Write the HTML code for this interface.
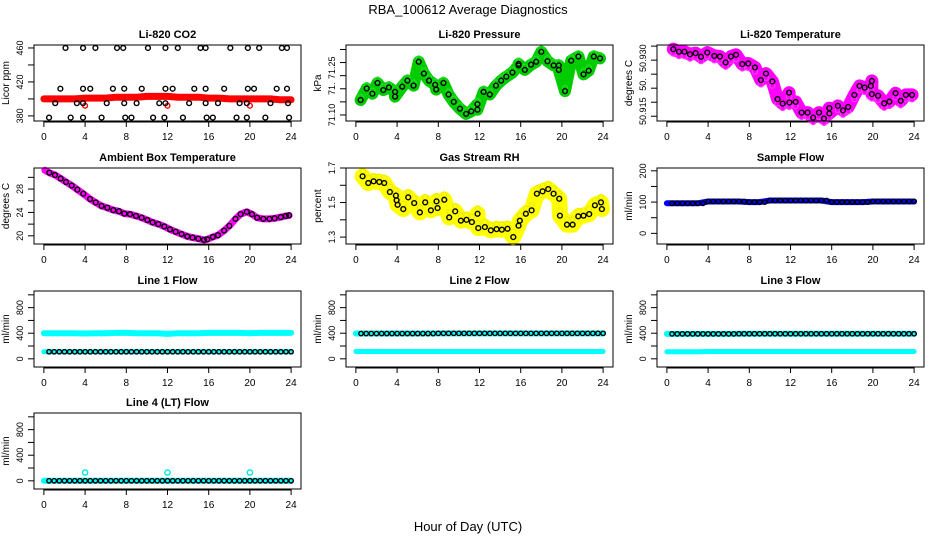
<!DOCTYPE html>
<html><head><meta charset="utf-8">
<style>
html,body{margin:0;padding:0;background:#fff;}
svg{display:block;font-family:"Liberation Sans","DejaVu Sans",sans-serif;}
</style></head>
<body>
<svg id="chart" width="936" height="540" viewBox="0 0 936 540" xmlns="http://www.w3.org/2000/svg">
<rect x="0" y="0" width="936" height="540" fill="#fff"/>
<text x="468" y="14" text-anchor="middle" font-size="13">RBA_100612  Average Diagnostics</text>
<text x="468" y="531" text-anchor="middle" font-size="13">Hour of Day (UTC)</text>
</svg>
<script>
// ---------- data ----------
const xTicks = [0,4,8,12,16,20,24];
const hours = [0,1,2,3,4,5,6,7,8,9,10,11,12,13,14,15,16,17,18,19,20,21,22,23,24];

// CO2
const co2Band = [400,400,400,400,401,401,401,402,402,402,403,403,403,402,402,402,401,401,400,400,400,400,400,399,399];
const co2BlackT = [2.1,3.8,5.0,7.1,7.7,10.1,11.8,13.0,15.2,15.7,18.1,19.8,20.9,23.1,23.6, 1.6,3.8,4.5,6.7,7.8,9.5,11.8,12.5,14.6,15.7,17.5,19.8,20.4,22.6,23.6, 1.1,3.2,3.8,6.1,7.8,9.0,11.2,11.8,14.1,15.7,16.9,19.0,19.7,22.0,23.7, 0.5,2.6,3.8,5.6,7.9,8.5,10.6,11.7,13.5,15.8,16.4,18.7,19.7,21.5,23.8];
const co2BlackV = [460,460,460,460,460,460,460,460,460,460,460,460,460,460,460, 412,412,412,412,412,412,412,412,412,412,412,412,412,412,412, 395,395,395,395,395,395,395,395,395,395,395,395,395,395,395, 378,378,378,378,378,378,378,378,378,378,378,378,378,378,378];
const co2RedT = [4,12,20];
const co2RedV = [392,392,392];

// Pressure
const presT = [0.46,1.05,1.6,2.1,2.66,3.2,3.8,3.8,4.5,5.0,5.6,6.1,6.6,7.1,7.7,7.8,8.5,9.0,9.5,10.1,10.7,11.2,11.8,11.8,12.4,13.0,13.6,14.1,14.6,15.2,15.8,15.8,16.4,17.0,17.5,18.0,18.6,19.2,19.7,19.7,20.3,20.9,21.6,22.1,22.6,23.1,23.7];
const presV = [71.157,71.201,71.181,71.222,71.195,71.205,71.188,71.170,71.208,71.231,71.212,71.303,71.258,71.231,71.215,71.197,71.222,71.178,71.150,71.124,71.104,71.114,71.141,71.120,71.188,71.178,71.212,71.231,71.246,71.262,71.289,71.295,71.272,71.292,71.303,71.341,71.305,71.289,71.289,71.272,71.191,71.307,71.323,71.255,71.269,71.323,71.316];

// Li-820 temperature
const tempT = [0.62,1.17,1.7,2.24,2.79,3.31,3.92,4.6,5.15,5.7,6.22,6.71,7.32,7.9,8.55,9.13,9.62,10.24,10.75,11.24,11.86,11.89,12.5,13.08,13.66,14.2,14.77,15.25,15.77,15.77,16.6,17.1,17.6,18.2,18.7,19.2,19.8,19.9,19.9,20.5,21.1,21.6,22.2,22.7,23.2,23.8];
const tempV = [50.9389,50.9380,50.9380,50.9371,50.9375,50.9362,50.9377,50.9365,50.9363,50.9342,50.9363,50.9369,50.9336,50.9338,50.9324,50.9279,50.9302,50.9274,50.9211,50.9195,50.9234,50.9199,50.9201,50.9163,50.9163,50.9145,50.9163,50.9142,50.9179,50.9160,50.9187,50.9171,50.9183,50.9226,50.9258,50.9252,50.9258,50.9276,50.9229,50.9223,50.9196,50.9202,50.9232,50.9205,50.9226,50.9226];

// Ambient box temperature
const ambT = [0.1,0.53,1.08,1.63,2.15,2.7,3.25,3.83,4.48,5.03,5.6,6.16,6.74,7.29,7.81,8.36,8.94,9.49,10.04,10.56,11.11,11.69,12.24,12.79,13.37,13.92,14.44,14.99,15.54,15.86,16.4,16.9,17.5,18.0,18.6,19.1,19.7,20.2,20.7,21.3,21.9,22.4,23.0,23.5,23.8];
const ambV = [31.2,30.8,30.4,29.8,29.2,28.6,27.9,27.2,26.3,25.7,25.1,24.8,24.4,24.2,23.8,23.7,23.4,23.1,22.7,22.3,22.0,21.6,21.1,20.7,20.3,19.9,19.7,19.5,19.3,19.4,19.8,20.1,20.9,21.7,22.9,23.7,24.1,23.7,23.1,22.9,22.9,23.0,23.2,23.4,23.5];

// Gas stream RH
const rhT = [0.65,1.2,1.72,2.27,2.75,3.3,3.88,3.95,4.05,4.6,5.08,5.66,6.21,6.73,7.28,7.83,7.93,8.58,9.06,9.64,10.19,10.74,11.26,11.81,11.88,12.52,13.1,13.66,14.17,14.72,15.28,15.79,15.92,16.5,17.06,17.57,18.12,18.67,19.19,19.74,19.81,20.49,21.04,21.59,22.1,22.65,23.2,23.79,23.88];
const rhV = [1.652,1.613,1.623,1.619,1.613,1.561,1.540,1.513,1.487,1.462,1.530,1.497,1.443,1.501,1.455,1.507,1.468,1.516,1.414,1.449,1.395,1.400,1.387,1.435,1.352,1.358,1.339,1.346,1.343,1.348,1.300,1.366,1.395,1.435,1.455,1.551,1.565,1.578,1.551,1.522,1.424,1.372,1.372,1.420,1.424,1.433,1.484,1.501,1.462];

// Sample flow
const sfV = [96,96,96,96,102,102,102,102,100,100,105,105,105,105,105,105,100,100,100,100,102,102,102,102,102];

// Line flows (hourly)
const l1High = [400,400,400,400,395,400,400,405,405,400,400,400,390,400,400,400,405,405,405,405,400,405,405,405,405];
const l1Low  = [110,110,110,110,110,110,110,110,110,110,110,110,110,110,110,110,110,110,110,110,110,110,110,110,110];
const l2High = [395,395,395,395,395,395,395,395,398,398,398,398,398,398,398,398,398,398,398,398,398,398,398,398,398];
const l2Low  = [115,115,115,115,115,115,115,115,115,115,115,115,115,115,115,115,115,115,115,115,115,115,115,115,115];
const l3High = [390,390,390,390,390,390,390,392,392,392,392,392,392,392,392,392,392,392,392,392,392,392,392,392,392];
const l3Low  = [110,110,110,110,115,115,115,115,115,115,115,115,115,115,115,115,115,115,115,115,115,115,115,115,115];
const l4Base = [0,0,0,0,0,0,0,0,0,0,0,0,0,0,0,0,0,0,0,0,0,0,0,0,0];
const l4SpikeT = [4,12,20];
const l4SpikeV = [130,130,130];

// ---------- drawing ----------
const NS = "http://www.w3.org/2000/svg";
const svg = document.getElementById('chart');
function mk(tag, attrs, parent){
  const e = document.createElementNS(NS, tag);
  for (const k in attrs) e.setAttribute(k, attrs[k]);
  (parent||svg).appendChild(e);
  return e;
}
const cols = [34, 346, 657];
const rows = [45, 168, 291, 413];
const W = 267, H = 76;

function makePanel(col,row,title,ylab,ylim,yTicks,yLabelVals,yLabelTexts,name){
  const x0 = cols[col], y0 = rows[row];
  const g = mk('g',{});
  
  
  const sx = t => x0 + (t + 0.96) / 25.92 * W;
  const sy = v => y0 + H - (v - ylim[0]) / (ylim[1]-ylim[0]) * H;
  const t = mk('text',{x:x0+W/2,y:y0-7,'text-anchor':'middle','font-size':11,'font-weight':'bold'},g);
  t.textContent = title;
  
  
  const xa = mk('g',{},g);
  
  
  mk('line',{x1:sx(xTicks[0]),x2:sx(xTicks[xTicks.length-1]),y1:y0+H+1,y2:y0+H+1,stroke:'#000','stroke-width':1},xa);
  xTicks.forEach(v=>{
    mk('line',{x1:sx(v),x2:sx(v),y1:y0+H,y2:y0+H+6,stroke:'#000','stroke-width':1},xa);
    const tx = mk('text',{x:sx(v),y:y0+H+19,'text-anchor':'middle','font-size':10},xa);
    tx.textContent = v;
  });
  const ya = mk('g',{},g);
  
  
  yTicks.forEach(v=>{
    mk('line',{x1:x0-6,x2:x0,y1:sy(v),y2:sy(v),stroke:'#000','stroke-width':1},ya);
  });
  yLabelVals.forEach((v,i)=>{
    const yy = sy(v);
    const tx = mk('text',{x:x0-11,y:yy,'text-anchor':'middle','font-size':9,transform:`rotate(-90 ${x0-11} ${yy})`},ya);
    tx.textContent = yLabelTexts[i];
  });
  const yl = mk('text',{x:x0-25,y:y0+H/2,'text-anchor':'middle','font-size':10,transform:`rotate(-90 ${x0-25} ${y0+H/2})`},g);
  yl.textContent = ylab;
  
  
  const plot = mk('g',{},g);
  
  
  mk('rect',{x:x0,y:y0,width:W,height:H,fill:'none',stroke:'#000','stroke-width':1},g);
  return {g:plot,sx,sy};
}
function band(p, ts, vs, color, width, nm){
  const d = ts.map((t,i)=>(i?'L':'M')+p.sx(t).toFixed(1)+' '+p.sy(vs[i]).toFixed(1)).join(' ');
  const e = mk('path',{d:d,fill:'none',stroke:color,'stroke-width':width,'stroke-linejoin':'round','stroke-linecap':'round'},p.g);
  
  
}
function pts(p, ts, vs, color, nm, r){
  ts.forEach((t,i)=>{
    const c = mk('circle',{cx:p.sx(t),cy:p.sy(vs[i]),r:r||2.4,fill:'none',stroke:color,'stroke-width':1.4},p.g);
    
    
  });
}
function halfHours(arr){ // black-circle series every half hour from hourly arrays
  const t=[],v=[];
  for(let i=0;i<arr.length-1;i++){
    t.push(hours[i]+0.5); v.push(arr[i]);
    t.push(hours[i]+1); v.push(arr[i+1]);
  }
  return {t,v};
}

let p = makePanel(0,0,'Li-820 CO2','Licor ppm',[374,463.5],[380,400,420,440,460],[380,420,460],['380','420','460'],'co2-panel');
band(p,hours,co2Band,'#ff0000',7,'co2-band');
pts(p,co2RedT,co2RedV,'#ff0000','co2-red-point');
pts(p,co2BlackT,co2BlackV,'#000','co2-point');

p = makePanel(1,0,'Li-820 Pressure','kPa',[71.077,71.367],[71.10,71.15,71.20,71.25,71.30,71.35],[71.10,71.20,71.28],['71.10','71.','71.25'],'pressure-panel');
band(p,presT,presV,'#00cc00',12,'pressure-band');
pts(p,presT,presV.map(v=>v+0.012),'#22dd22','pressure-green-point',2.6);
pts(p,presT,presV,'#000','pressure-point');

p = makePanel(2,0,'Li-820 Temperature','degrees C',[50.9133,50.9404],[50.915,50.920,50.925,50.930,50.935,50.940],[50.9168,50.9263,50.9357],['50.915','50.','50.930'],'li820-temp-panel');
band(p,tempT,tempV,'#ff00ff',13,'li820-temp-band');
pts(p,tempT,tempV.map(v=>v-0.0015),'#ff33ff','li820-temp-magenta-point',2.6);
pts(p,tempT,tempV,'#000','li820-temp-point');

p = makePanel(0,1,'Ambient Box Temperature','degrees C',[18.6,31.6],[20,22,24,26,28,30],[20,24,28],['20','24','28'],'ambient-temp-panel');
band(p,ambT,ambV,'#ff00ff',7,'ambient-temp-band');
pts(p,ambT.slice(1),ambV.slice(1),'#000','ambient-temp-point');

p = makePanel(1,1,'Gas Stream RH','percent',[1.26,1.70],[1.3,1.4,1.5,1.6,1.7],[1.3,1.5,1.7],['1.3','1.5','1.7'],'rh-panel');
band(p,rhT,rhV,'#ffff00',16,'rh-band');
pts(p,rhT,rhV.map(v=>v+0.03),'#eeee00','rh-yellow-point',2.6);
pts(p,rhT,rhV,'#000','rh-point');

p = makePanel(2,1,'Sample Flow','ml/min',[-34,209],[0,50,100,150,200],[0,100,200],['0','100','200'],'sample-flow-panel');
band(p,hours,sfV,'#0000ff',6,'sample-flow-band');
let hh = halfHours(sfV);
pts(p,hh.t,hh.v,'#000','sample-flow-point',2.2);

const flowTicks=[0,200,400,600,800,1000];
const flowLab=[0,400,800];
const flowLabT=['0','400','800'];
const flowLim=[-128,1060];
p = makePanel(0,2,'Line 1 Flow','ml/min',flowLim,flowTicks,flowLab,flowLabT,'line1-flow-panel');
band(p,hours,l1High,'#00ffff',6,'line1-high-band');
band(p,hours,l1Low,'#00ffff',5,'line1-low-band');
hh = halfHours(l1Low); pts(p,hh.t,hh.v,'#000','line1-point',2.2);
p = makePanel(1,2,'Line 2 Flow','ml/min',flowLim,flowTicks,flowLab,flowLabT,'line2-flow-panel');
band(p,hours,l2High,'#00ffff',6,'line2-high-band');
band(p,hours,l2Low,'#00ffff',5,'line2-low-band');
hh = halfHours(l2High); pts(p,hh.t,hh.v,'#000','line2-point',2.2);
p = makePanel(2,2,'Line 3 Flow','ml/min',flowLim,flowTicks,flowLab,flowLabT,'line3-flow-panel');
band(p,hours,l3High,'#00ffff',6,'line3-high-band');
band(p,hours,l3Low,'#00ffff',5,'line3-low-band');
hh = halfHours(l3High); pts(p,hh.t,hh.v,'#000','line3-point',2.2);
p = makePanel(0,3,'Line 4 (LT) Flow','ml/min',flowLim,flowTicks,flowLab,flowLabT,'line4-flow-panel');
band(p,hours,l4Base,'#00ffff',6,'line4-band');
hh = halfHours(l4Base); pts(p,hh.t,hh.v,'#000','line4-point',2.2);
pts(p,l4SpikeT,l4SpikeV,'#00e5e5','line4-spike-point',2.6);
</script>
</body></html>
